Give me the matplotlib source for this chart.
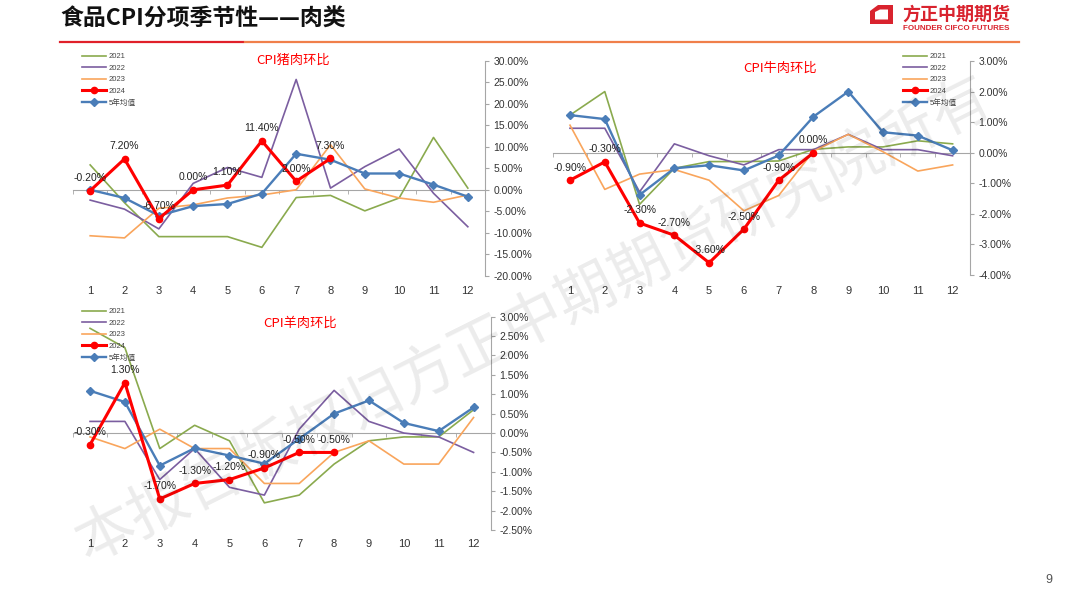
import matplotlib

matplotlib.use("Agg")
import matplotlib.pyplot as plt
from matplotlib.lines import Line2D
from matplotlib.patches import Polygon
from matplotlib.ticker import FuncFormatter, MultipleLocator

plt.rcParams["font.family"] = ["Liberation Sans", "Noto Sans CJK SC", "DejaVu Sans"]

W, H = 1080, 608

months = list(range(1, 13))
series_names = ["2021", "2022", "2023", "2024", "5年均值"]

# pork, month-on-month %
pork_2021 = [5.8, -3.0, -10.9, -10.9, -10.9, -13.4, -1.8, -1.3, -4.9, -1.9, 12.2, 0.4]
pork_2022 = [-2.4, -4.5, -9.1, 1.5, 5.2, 2.9, 25.7, 0.4, 5.4, 9.5, -0.8, -8.6]
pork_2023 = [-10.7, -11.2, -4.3, -3.5, -1.9, -1.2, 0.0, 10.5, 0.2, -1.9, -2.9, -1.2]
pork_2024 = [-0.2, 7.2, -6.7, 0.0, 1.1, 11.4, 2.0, 7.3]
pork_avg = [0.0, -1.9, -6.0, -3.8, -3.3, -0.9, 8.4, 7.0, 3.8, 3.8, 1.2, -1.6]

# beef
beef_2021 = [1.23, 2.0, -1.69, -0.51, -0.29, -0.29, -0.27, 0.11, 0.19, 0.19, 0.39, 0.29]
beef_2022 = [0.8, 0.8, -1.28, 0.29, -0.1, -0.4, 0.1, 0.1, 0.6, 0.1, 0.1, -0.1]
beef_2023 = [0.9, -1.2, -0.7, -0.55, -0.9, -1.9, -1.4, 0.05, 0.6, 0.03, -0.6, -0.4]
beef_2024 = [-0.9, -0.3, -2.3, -2.7, -3.6, -2.5, -0.9, 0.0]
beef_avg = [1.23, 1.1, -1.38, -0.51, -0.41, -0.58, -0.09, 1.18, 2.0, 0.67, 0.56, 0.08]

# lamb
lamb_2021 = [2.7, 2.2, -0.4, 0.2, -0.2, -1.8, -1.6, -0.8, -0.2, -0.1, -0.1, 0.6]
lamb_2022 = [0.3, 0.3, -1.2, -0.4, -1.4, -1.6, 0.1, 1.1, 0.3, 0.0, -0.1, -0.5]
lamb_2023 = [-0.1, -0.4, 0.1, -0.4, -0.4, -1.3, -1.3, -0.5, -0.2, -0.8, -0.8, 0.4]
lamb_2024 = [-0.3, 1.3, -1.7, -1.3, -1.2, -0.9, -0.5, -0.5]
lamb_avg = [1.09, 0.8, -0.84, -0.39, -0.58, -0.79, -0.15, 0.5, 0.84, 0.26, 0.05, 0.66]

C_GREEN = "#8AAA4E"
C_PURPLE = "#7B5EA0"
C_ORANGE = "#F9A55C"
C_RED = "#FF0000"
C_BLUE = "#4A7DB8"
GREY = "#A6A6A6"


def px_axes(fig, left, right, top, bottom):
    return fig.add_axes([left / W, 1 - bottom / H, (right - left) / W, (bottom - top) / H])


def meat_chart(fig, box, title, title_xy, data, ylim, step, leg_xy, lab_pad):
    ax = px_axes(fig, *box)
    y21, y22, y23, y24, yavg = data
    ax.plot(months, y21, color=C_GREEN, lw=1.2, label="2021", zorder=3)
    ax.plot(months, y22, color=C_PURPLE, lw=1.2, label="2022", zorder=3)
    ax.plot(months, y23, color=C_ORANGE, lw=1.2, label="2023", zorder=3)
    ax.plot(months[:len(y24)], y24, color=C_RED, lw=2.2, marker="o", ms=4.5,
            label="2024", zorder=5)
    ax.plot(months, yavg, color=C_BLUE, lw=1.7, marker="D", ms=4,
            label="5年均值", zorder=4)
    for m, v in zip(months, y24):
        ax.annotate(f"{v:.2f}%", (m, v), xytext=(0, 5.5), textcoords="offset points",
                    ha="center", va="bottom", fontsize=7.5, color="#222222", zorder=6)

    ax.set_xlim(0.5, 12.5)
    ax.set_ylim(*ylim)
    ax.patch.set_alpha(0)
    for s in ("top", "left"):
        ax.spines[s].set_visible(False)
    ax.spines["right"].set_color(GREY)
    ax.spines["bottom"].set_position(("data", 0))
    ax.spines["bottom"].set_color(GREY)
    ax.yaxis.tick_right()
    ax.yaxis.set_major_locator(MultipleLocator(step))
    ax.yaxis.set_major_formatter(FuncFormatter(lambda v, p: f"{v:.2f}%"))
    ax.tick_params(axis="y", length=3, color=GREY, labelsize=7.5, labelcolor="#333333", pad=3)
    ax.set_xticks([])
    ax.set_xticks([m + 0.5 for m in range(0, 13)], minor=True)
    ax.tick_params(axis="x", which="minor", length=3, color=GREY, direction="out")

    sec = ax.secondary_xaxis(0)
    sec.spines["bottom"].set_visible(False)
    sec.set_xticks(months)
    sec.set_xticklabels([str(m) for m in months])
    sec.tick_params(length=0, labelsize=8, labelcolor="#333333", pad=lab_pad)

    fig.text(title_xy[0] / W, 1 - title_xy[1] / H, title, color="red", fontsize=9.5,
             ha="center", va="center", family=["Noto Sans CJK SC"])

    ax.legend(loc="upper left", bbox_to_anchor=(leg_xy[0] / W, 1 - leg_xy[1] / H),
              bbox_transform=fig.transFigure, frameon=False, fontsize=5.5,
              handlelength=3.2, handletextpad=0.3, labelspacing=0.55,
              borderpad=0, borderaxespad=0, labelcolor="#444444")
    return ax


fig = plt.figure(figsize=(W / 100, H / 100), dpi=100)
fig.patch.set_facecolor("white")

meat_chart(fig, (73, 485, 61, 275.7), "CPI猪肉环比", (293, 60),
           [pork_2021, pork_2022, pork_2023, pork_2024, pork_avg],
           (-20, 30), 5, (82, 53), 7.5)
meat_chart(fig, (552.6, 970, 61, 275), "CPI牛肉环比", (780, 68),
           [beef_2021, beef_2022, beef_2023, beef_2024, beef_avg],
           (-4, 3), 1, (903, 53), 8)
meat_chart(fig, (72.6, 491, 316.7, 530), "CPI羊肉环比", (300, 323),
           [lamb_2021, lamb_2022, lamb_2023, lamb_2024, lamb_avg],
           (-2.5, 3), 0.5, (82, 308), 6.5)

# page header
fig.text(60 / W, 1 - 19 / H, "食品CPI分项季节性——肉类", fontsize=16.5, fontweight="bold",
         ha="left", va="center", color="#111111", family=["Noto Sans CJK SC"])
fig.add_artist(Line2D([60 / W, 243 / W], [1 - 42 / H] * 2, color="#E0202A", lw=1.6))
fig.add_artist(Line2D([245 / W, 1019 / W], [1 - 42 / H] * 2, color="#F07F4A", lw=1.6))

# logo
logo = Polygon([(870 / W, 1 - 11 / H), (878 / W, 1 - 5 / H), (893 / W, 1 - 5 / H),
                (893 / W, 1 - 24 / H), (870 / W, 1 - 24 / H)],
               closed=True, transform=fig.transFigure, facecolor="#D9232E", edgecolor="none")
hole = Polygon([(875 / W, 1 - 12 / H), (880 / W, 1 - 9.5 / H), (888 / W, 1 - 9.5 / H),
                (888 / W, 1 - 19.5 / H), (875 / W, 1 - 19.5 / H)],
               closed=True, transform=fig.transFigure, facecolor="white", edgecolor="none")
fig.add_artist(logo)
fig.add_artist(hole)
fig.text(956 / W, 1 - 14 / H, "方正中期期货", fontsize=13, fontweight="bold",
         color="#D9232E", ha="center", va="center", family=["Noto Sans CJK SC"])
fig.text(956 / W, 1 - 29 / H, "FOUNDER CIFCO FUTURES", fontsize=5.8, fontweight="bold",
         color="#D9232E", ha="center", va="center")

# watermark
fig.text(535 / W, 1 - 322 / H, "本报告版权归方正中期期货研究院所有", fontsize=43,
         rotation=26.5, ha="center", va="center", color="#000000", alpha=0.08,
         family=["Noto Sans CJK SC"], zorder=10)

fig.text(1049 / W, 1 - 580 / H, "9", fontsize=9, color="#555555", ha="center", va="center")

fig.savefig("out.png", dpi=100)
